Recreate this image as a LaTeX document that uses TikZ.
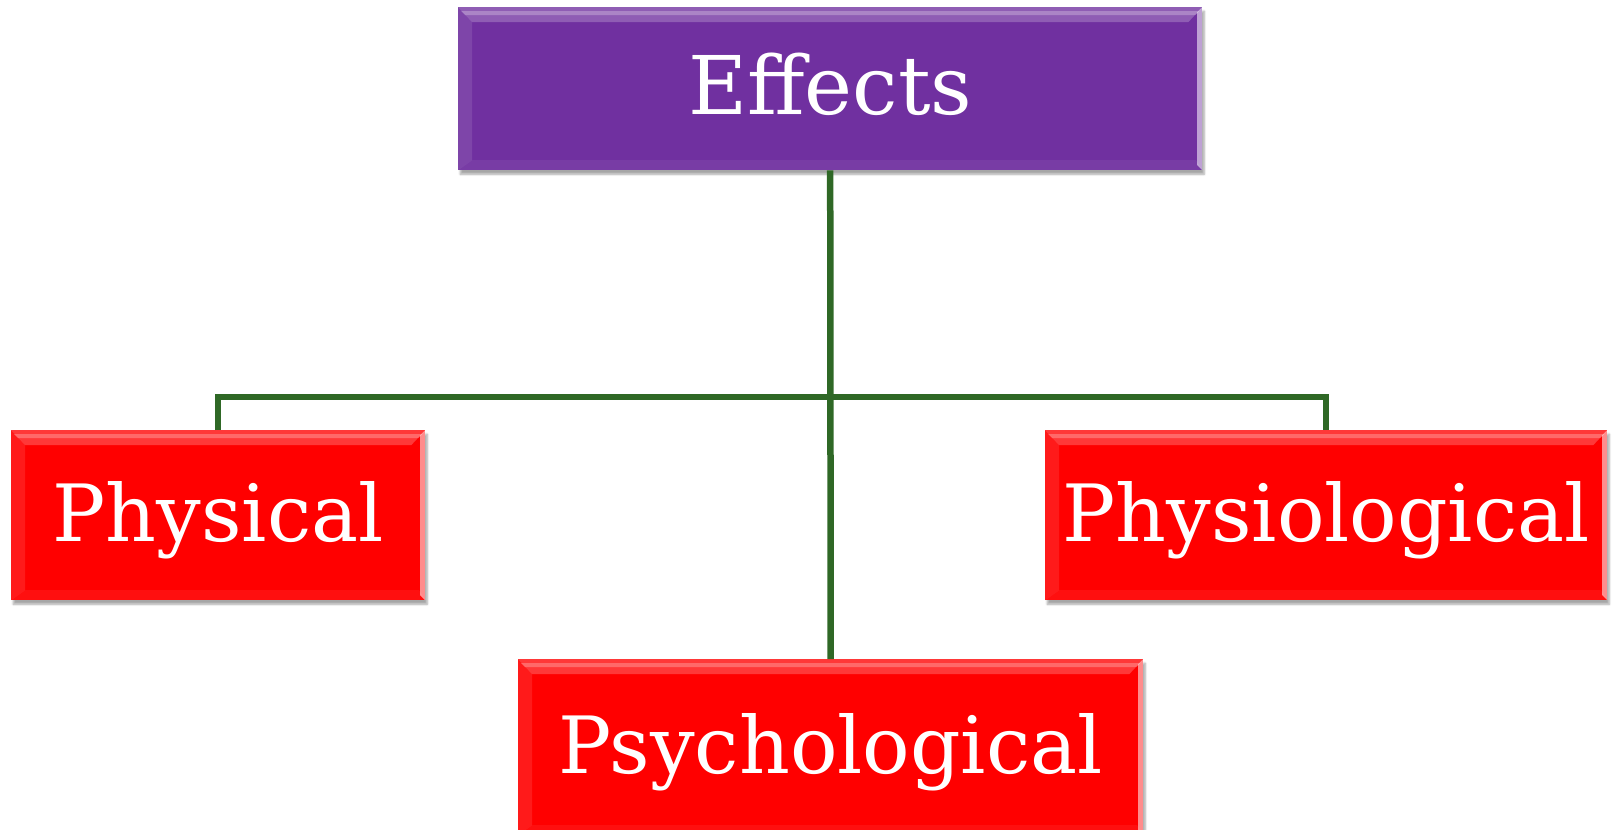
\documentclass[tikz,border=0pt]{standalone}
\usepackage{fontspec}
\setmainfont{DejaVu Serif}
\usetikzlibrary{shadows.blur,calc}
\definecolor{boxpurple}{RGB}{112,48,160}
\definecolor{boxred}{RGB}{255,0,0}
\definecolor{linegreen}{RGB}{47,104,38}
\tikzset{
  bevel/.style={path picture={
    \coordinate (nw) at (path picture bounding box.north west);
    \coordinate (ne) at (path picture bounding box.north east);
    \coordinate (sw) at (path picture bounding box.south west);
    \coordinate (se) at (path picture bounding box.south east);
    \fill[white,opacity=.22] (nw) -- (ne) -- ([shift={(-14pt,-15pt)}]ne) -- ([shift={(14pt,-15pt)}]nw) -- cycle;
    \fill[white,opacity=.25] ([shift={(3pt,-4pt)}]nw) -- ([shift={(-3pt,-4pt)}]ne) -- ([shift={(-7pt,-8pt)}]ne) -- ([shift={(7pt,-8pt)}]nw) -- cycle;
    \fill[white,opacity=.10] (nw) -- ([shift={(14pt,-15pt)}]nw) -- ([shift={(14pt,10pt)}]sw) -- (sw) -- cycle;
    \fill[white,opacity=.06] (sw) -- ([shift={(14pt,10pt)}]sw) -- ([shift={(-6pt,10pt)}]se) -- (se) -- cycle;
    \fill[white,opacity=.55] (ne) -- ([shift={(-5pt,-5pt)}]ne) -- ([shift={(-5pt,5pt)}]se) -- (se) -- cycle;
  }},
  box/.style={rectangle, bevel, inner sep=0pt, anchor=north west, text=white,
    font=\fontsize{79}{79}\selectfont, text height=58pt, text depth=6pt,
    blur shadow={shadow xshift=2pt, shadow yshift=-4pt, shadow blur steps=6, shadow opacity=35}},
  conn/.style={draw=linegreen, line width=6.5pt}
}
\begin{document}
\begin{tikzpicture}[x=1pt,y=-1pt]
\useasboundingbox (0,0) rectangle (1615,830);
\node[box, fill=boxpurple, minimum width=744pt, minimum height=163pt, font=\fontsize{81}{81}\selectfont] (eff) at (458,7) {Effects};
\node[box, fill=boxred, minimum width=414pt, minimum height=170pt] (phys) at (11,430) {Physical};
\node[box, fill=boxred, minimum width=562pt, minimum height=170pt] (physio) at (1045,430) {Physiological};
\node[box, fill=boxred, minimum width=625pt, minimum height=176pt] (psy) at (518,659) {Psychological};
\coordinate (bus) at (831,397);
\draw[conn] (eff.south) -- (psy.north);
\draw[conn] (phys.north) |- (bus) -| (physio.north);
\end{tikzpicture}
\end{document}
